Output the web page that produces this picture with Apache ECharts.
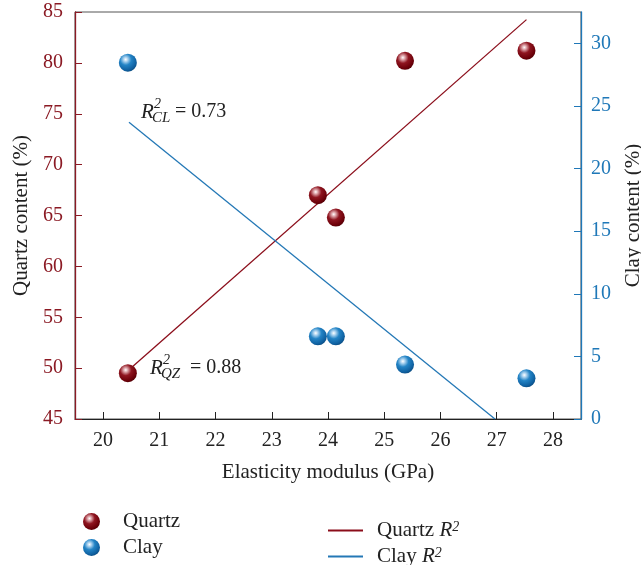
<!DOCTYPE html>
<html>
<head>
<meta charset="utf-8">
<script src="https://cdn.jsdelivr.net/npm/echarts@6/dist/echarts.min.js"></script>
<style>
  html, body { margin: 0; padding: 0; background: #fff; }
  #main { width: 641px; height: 565px; }
</style>
</head>
<body>
<div id="main"></div>
<script>
// data
const quartzX = [20.44, 23.82, 24.14, 25.37, 27.53];
const quartzY = [49.5, 67.0, 64.8, 80.2, 81.2];
const clayX = [20.44, 23.82, 24.14, 25.37, 27.53];
const clayY = [28.45, 6.6, 6.6, 4.35, 3.25];
// fitted lines (end points)
const quartzFitX = [20.45, 27.53];
const quartzFitY = [49.8, 84.25];
const clayFitX = [20.46, 26.97];
const clayFitY = [23.7, 0];

const FONT = "'Liberation Serif', 'DejaVu Serif', serif";
const RED = '#8b1a24';
const BLUE = '#1f78b8';

function pairs(xs, ys) {
  return xs.map((x, i) => [x, ys[i]]);
}

function sphere(hi, mid, dark, edge) {
  return {
    type: 'radial', x: 0.38, y: 0.32, r: 0.75,
    colorStops: [
      { offset: 0, color: '#ffffff' },
      { offset: 0.14, color: hi },
      { offset: 0.42, color: mid },
      { offset: 0.8, color: dark },
      { offset: 1, color: edge }
    ]
  };
}
const quartzBall = sphere('#e2aeb3', '#8f1520', '#6c0009', '#4a0004');
const clayBall = sphere('#b5d8f2', '#2384c6', '#0f60a0', '#0a4677');

// little R^2 labels with a sub script
function rLabel(x, y, sub, val, gap) {
  return {
    type: 'group',
    children: [
      { type: 'text', x: x, y: y, style: { text: 'R', font: 'italic 21px ' + FONT, fill: '#222', textVerticalAlign: 'middle' } },
      { type: 'text', x: x + 13, y: y - 8, style: { text: '2', font: 'italic 14px ' + FONT, fill: '#222', textVerticalAlign: 'middle' } },
      { type: 'text', x: x + 11, y: y + 6, style: { text: sub, font: 'italic 15px ' + FONT, fill: '#222', textVerticalAlign: 'middle' } },
      { type: 'text', x: x + gap, y: y, style: { text: '= ' + val, font: '20px ' + FONT, fill: '#222', textVerticalAlign: 'middle' } }
    ]
  };
}

const chart = echarts.init(document.getElementById('main'));
chart.setOption({
  animation: false,
  textStyle: { fontFamily: FONT },
  grid: {
    left: 75, right: 60, top: 12, bottom: 146,
    outerBoundsMode: 'none', containLabel: false,
    show: true, borderColor: '#555', borderWidth: 1
  },
  xAxis: {
    type: 'value', min: 19.5, max: 28.5, splitNumber: 9,
    name: 'Elasticity modulus (GPa)', nameLocation: 'middle', nameGap: 43,
    nameTextStyle: { fontSize: 21, color: '#222', fontFamily: FONT },
    axisLine: { lineStyle: { color: '#222', width: 1.2 } },
    axisTick: { inside: true, length: 7, lineStyle: { color: '#222' } },
    axisLabel: {
      fontSize: 20, color: '#222', fontFamily: FONT, margin: 12,
      showMinLabel: false, showMaxLabel: false,
      formatter: v => (Number.isInteger(v) ? String(v) : '')
    },
    splitLine: { show: false }
  },
  yAxis: [
    {
      type: 'value', min: 45, max: 85, interval: 5, position: 'left',
      name: 'Quartz content (%)', nameLocation: 'middle', nameGap: 38, nameRotate: 90,
      nameTextStyle: { fontSize: 21, color: '#222', fontFamily: FONT },
      axisLine: { show: true, lineStyle: { color: RED, width: 1.3 } },
      axisTick: { inside: true, length: 7, lineStyle: { color: RED } },
      axisLabel: { fontSize: 20, color: RED, fontFamily: FONT, margin: 12 },
      splitLine: { show: false }
    },
    {
      type: 'value', min: 0, max: 32.5, interval: 5, position: 'right',
      name: 'Clay content (%)', nameLocation: 'middle', nameGap: 42, nameRotate: 90,
      nameTextStyle: { fontSize: 21, color: '#222', fontFamily: FONT },
      axisLine: { show: true, lineStyle: { color: BLUE, width: 1.3 } },
      axisTick: { inside: true, length: 7, lineStyle: { color: BLUE } },
      axisLabel: { fontSize: 20, color: BLUE, fontFamily: FONT, margin: 10, showMaxLabel: false,
        formatter: v => (v % 5 === 0 ? String(v) : '') },
      splitLine: { show: false }
    }
  ],
  legend: [
    {
      orient: 'vertical', left: 83, top: 511, height: 60, padding: 0,
      itemWidth: 17, itemHeight: 17, itemGap: 5,
      data: [{ name: 'Quartz', icon: 'circle' }, { name: 'Clay', icon: 'circle' }],
      textStyle: { fontSize: 21, color: '#222', fontFamily: FONT, lineHeight: 21, padding: [0, 0, 0, 18] }
    },
    {
      orient: 'vertical', left: 328, top: 520, height: 60, padding: 0,
      itemWidth: 35, itemHeight: 2, itemGap: 5,
      data: [{ name: 'Quartz R2', icon: 'rect' }, { name: 'Clay R2', icon: 'rect' }],
      formatter: name => '{n|' + name.replace(' R2', ' ') + '}{i|R}{s|2}',
      textStyle: {
        fontSize: 21, color: '#222', fontFamily: FONT, lineHeight: 21, padding: [0, 0, 0, 9],
        rich: {
          n: { fontSize: 21, fontFamily: FONT, color: '#222', lineHeight: 21, verticalAlign: 'bottom' },
          i: { fontSize: 21, fontFamily: FONT, fontStyle: 'italic', color: '#222', lineHeight: 21, verticalAlign: 'bottom' },
          s: { fontSize: 14, fontFamily: FONT, fontStyle: 'italic', color: '#222', lineHeight: 14, padding: [0, 0, 7, 0], verticalAlign: 'bottom' }
        }
      }
    }
  ],
  graphic: [
    rLabel(141, 112, 'CL', '0.73', 34),
    rLabel(150, 368, 'QZ', '0.88', 40)
  ],
  series: [
    {
      name: 'Quartz R2', type: 'line', yAxisIndex: 0,
      data: pairs(quartzFitX, quartzFitY),
      showSymbol: false, symbol: 'none',
      lineStyle: { color: '#8b0d1a', width: 1.3 },
      itemStyle: { color: '#8b0d1a' }, z: 2
    },
    {
      name: 'Clay R2', type: 'line', yAxisIndex: 1,
      data: pairs(clayFitX, clayFitY),
      showSymbol: false, symbol: 'none',
      lineStyle: { color: '#2478b6', width: 1.3 },
      itemStyle: { color: '#2478b6' }, z: 2
    },
    {
      name: 'Quartz', type: 'scatter', yAxisIndex: 0,
      data: pairs(quartzX, quartzY),
      symbolSize: 18, itemStyle: { color: quartzBall, opacity: 1 }, z: 3
    },
    {
      name: 'Clay', type: 'scatter', yAxisIndex: 1,
      data: pairs(clayX, clayY),
      symbolSize: 18, itemStyle: { color: clayBall, opacity: 1 }, z: 3
    }
  ]
});
</script>
</body>
</html>
